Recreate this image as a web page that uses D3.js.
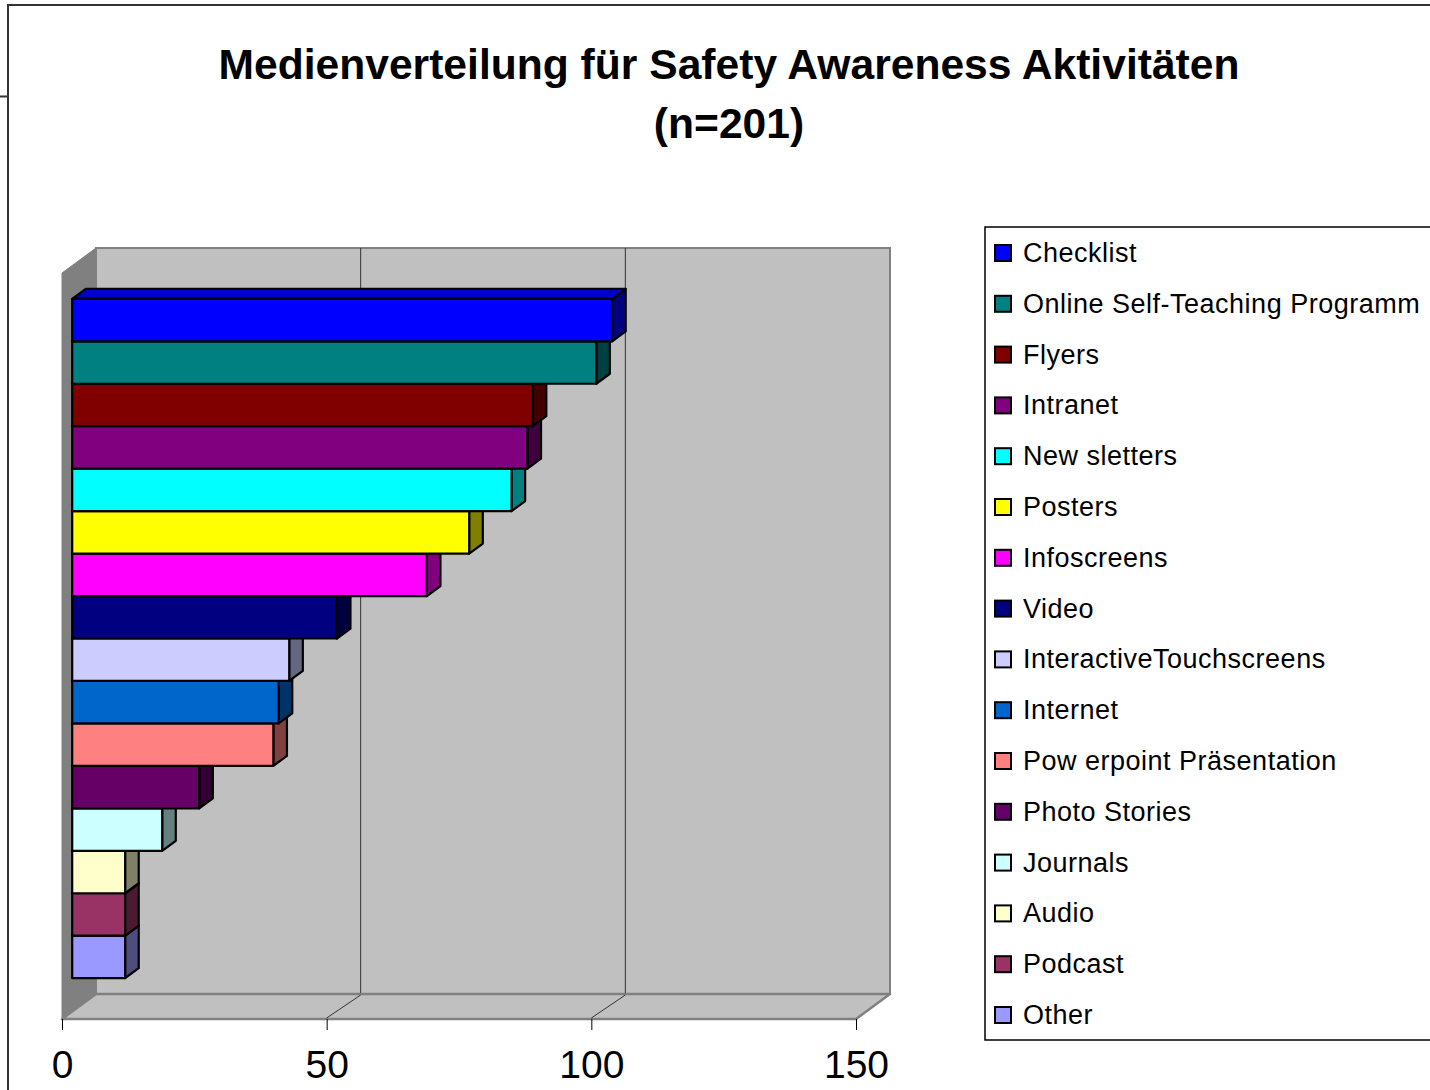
<!DOCTYPE html>
<html lang="de">
<head>
  <meta charset="UTF-8" />
  <title>Medienverteilung für Safety Awareness Aktivitäten</title>
  <script src="https://cdnjs.cloudflare.com/ajax/libs/d3/7.8.2/d3.min.js"></script>
  <style>
    body {
      margin: 0;
      padding: 0;
      background: #fff;
      font-family: "Liberation Sans", Arial, sans-serif;
    }
    svg {
      display: block;
    }
    .tick text {
      font-size: 39px;
      fill: #000;
    }
    .legend text {
      font-size: 27px;
      letter-spacing: 0.5px;
      fill: #000;
    }
  </style>
</head>
<body>

<svg id="chart" width="1430" height="1090"></svg>

<script>
// -----------------------------------------------------
// DATA
// -----------------------------------------------------
const series = [
  "Checklist", "Online Self-Teaching Programm", "Flyers", "Intranet",
  "New sletters", "Posters", "Infoscreens", "Video",
  "InteractiveTouchscreens", "Internet", "Pow erpoint Präsentation",
  "Photo Stories", "Journals", "Audio", "Podcast", "Other"
];
const values = [102, 99, 87, 86, 83, 75, 67, 50, 41, 39, 38, 24, 17, 10, 10, 10];
const colors = [
  "#0000FF", "#008080", "#800000", "#800080",
  "#00FFFF", "#FFFF00", "#FF00FF", "#000080",
  "#CCCCFF", "#0066CC", "#FF8080", "#660066",
  "#CCFFFF", "#FFFFCC", "#993366", "#9999FF"
];
const xTicks = [0, 50, 100, 150];
const titleLines = ["Medienverteilung für Safety Awareness Aktivitäten", "(n=201)"];

// -----------------------------------------------------
// SETUP
// -----------------------------------------------------
const svg = d3.select("#chart");

// front plane of the 3D box
const x = d3.scaleLinear().domain([0, 150]).range([62, 856]);
const y = d3.scaleBand().domain(series).range([273, 1019])
  .paddingInner(0).paddingOuter(0.785);

// depth vector (front -> back wall)
const DX = 34, DY = -25;
const Z0 = 0.3, Z1 = 0.7; // bar front / back depth

const proj = (px, py, z) => [px + z * DX, py + z * DY];
const poly = pts => pts.map(p => p.join(",")).join(" ");

const shade = (c, f) => {
  const r = d3.rgb(c);
  return d3.rgb(r.r * f, r.g * f, r.b * f).formatHex();
};

// -----------------------------------------------------
// OUTER FRAME
// -----------------------------------------------------
svg.append("path")
  .attr("d", "M0,96.5H8M8,1090V5H1430")
  .attr("fill", "none")
  .attr("stroke", "#333")
  .attr("stroke-width", 2);

// -----------------------------------------------------
// TITLE
// -----------------------------------------------------
svg.append("g").selectAll("text")
  .data(titleLines)
  .join("text")
  .attr("x", 729)
  .attr("y", (d, i) => 79 + i * 59)
  .attr("text-anchor", "middle")
  .style("font-size", "42.6px")
  .style("font-weight", "bold")
  .text(d => d);

// -----------------------------------------------------
// WALLS & FLOOR
// -----------------------------------------------------
const [yTop, yBot] = y.range();
const x0 = x(0), x1 = x(150);

const walls = svg.append("g");

// back wall
walls.append("polygon")
  .attr("points", poly([proj(x0, yTop, 1), proj(x1, yTop, 1), proj(x1, yBot, 1), proj(x0, yBot, 1)]))
  .attr("fill", "#C0C0C0")
  .attr("stroke", "#808080")
  .attr("stroke-width", 2);

// left wall
walls.append("polygon")
  .attr("points", poly([[x0, yTop], proj(x0, yTop, 1), proj(x0, yBot, 1), [x0, yBot]]))
  .attr("fill", "#808080")
  .attr("stroke", "#808080")
  .attr("stroke-width", 1);

// floor
walls.append("polygon")
  .attr("points", poly([[x0, yBot], [x1, yBot], proj(x1, yBot, 1), proj(x0, yBot, 1)]))
  .attr("fill", "#C0C0C0")
  .attr("stroke", "#808080")
  .attr("stroke-width", 2.5)
  .attr("stroke-linejoin", "round");

// gridlines on back wall and floor
const grid = xTicks.filter(v => v > 0 && v < 150);
walls.selectAll("line.gridback")
  .data(grid)
  .join("line")
  .attr("class", "gridback")
  .attr("x1", d => proj(x(d), yTop, 1)[0])
  .attr("y1", d => proj(x(d), yTop, 1)[1])
  .attr("x2", d => proj(x(d), yBot, 1)[0])
  .attr("y2", d => proj(x(d), yBot, 1)[1] - 1)
  .attr("stroke", "#333")
  .attr("stroke-width", 1);

walls.selectAll("line.gridfloor")
  .data(grid)
  .join("line")
  .attr("class", "gridfloor")
  .attr("x1", d => x(d))
  .attr("y1", yBot - 1)
  .attr("x2", d => proj(x(d), yBot, 1)[0])
  .attr("y2", d => proj(x(d), yBot, 1)[1] + 1)
  .attr("stroke", "#333")
  .attr("stroke-width", 1);

// -----------------------------------------------------
// BARS (drawn bottom-up so upper bars cover lower sides)
// -----------------------------------------------------
const bars = series.map((s, i) => ({ name: s, value: values[i], color: colors[i] }));

const barG = svg.append("g")
  .selectAll("g.bar")
  .data(bars.slice().reverse())
  .join("g")
  .attr("class", "bar");

barG.each(function(d) {
  const g = d3.select(this);
  const left = x(0), right = x(d.value);
  const top = y(d.name), bot = y(d.name) + y.bandwidth();

  // side face
  g.append("polygon")
    .attr("points", poly([proj(right, top, Z0), proj(right, top, Z1), proj(right, bot, Z1), proj(right, bot, Z0)]))
    .attr("fill", shade(d.color, 0.5));

  // top face
  g.append("polygon")
    .attr("points", poly([proj(left, top, Z0), proj(left, top, Z1), proj(right, top, Z1), proj(right, top, Z0)]))
    .attr("fill", shade(d.color, 0.8));

  // front face
  const [fx, fy] = proj(left, top, Z0);
  g.append("rect")
    .attr("x", fx)
    .attr("y", fy)
    .attr("width", right - left)
    .attr("height", bot - top)
    .attr("fill", d.color);

  g.selectAll("polygon, rect")
    .attr("stroke", "#000")
    .attr("stroke-width", 2.2)
    .attr("stroke-linejoin", "round");
});

// -----------------------------------------------------
// X AXIS
// -----------------------------------------------------
const axis = svg.append("g")
  .attr("transform", `translate(0,${yBot})`)
  .call(d3.axisBottom(x).tickValues(xTicks).tickSize(11).tickPadding(20).tickFormat(d3.format("d")));

axis.select(".domain").remove();
axis.selectAll(".tick line").attr("stroke", "#000").attr("stroke-width", 1);
axis.selectAll(".tick text").attr("font-family", null).attr("font-size", null);

// -----------------------------------------------------
// LEGEND
// -----------------------------------------------------
const legend = svg.append("g").attr("class", "legend");

legend.append("rect")
  .attr("x", 985)
  .attr("y", 227)
  .attr("width", 480)
  .attr("height", 813)
  .attr("fill", "#fff")
  .attr("stroke", "#000")
  .attr("stroke-width", 1.5);

const item = legend.selectAll("g.item")
  .data(bars)
  .join("g")
  .attr("class", "item")
  .attr("transform", (d, i) => `translate(0,${253 + i * 50.8})`);

item.append("rect")
  .attr("x", 995)
  .attr("y", -8)
  .attr("width", 16)
  .attr("height", 16)
  .attr("fill", d => d.color)
  .attr("stroke", "#000")
  .attr("stroke-width", 2);

item.append("text")
  .attr("x", 1023)
  .attr("y", 9)
  .text(d => d.name);
</script>
</body>
</html>
